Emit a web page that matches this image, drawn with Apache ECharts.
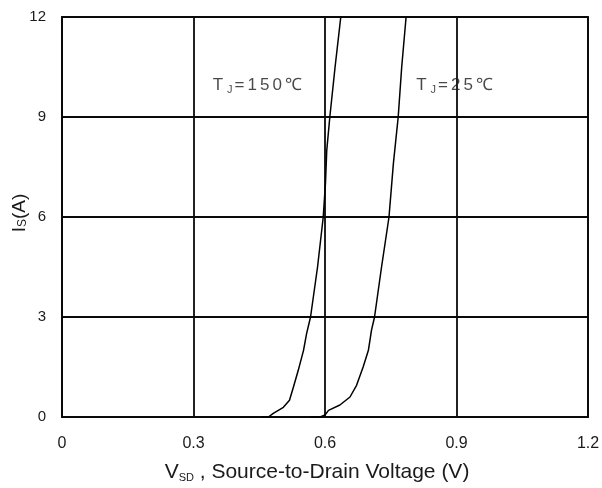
<!DOCTYPE html>
<html>
<head>
<meta charset="utf-8">
<script src="https://cdn.jsdelivr.net/npm/echarts@6/dist/echarts.min.js"></script>
<style>
html,body{margin:0;padding:0;background:#fff;}
#main{width:602px;height:488px;}
</style>
</head>
<body>
<div id="main"></div>
<script>
// Data
var xTicks = [0, 0.3, 0.6, 0.9, 1.2];
var yTicks = [0, 3, 6, 9, 12];
var curve150 = [[0.456,0],[0.471,0],[0.482,0.11],[0.505,0.29],[0.519,0.5],[0.528,0.9],[0.539,1.4],[0.551,2.0],[0.558,2.5],[0.567,3.0],[0.583,4.5],[0.596,6.0],[0.601,7.0],[0.604,8.0],[0.611,9.0],[0.623,10.5],[0.636,12]];
var curve25 = [[0.566,0],[0.589,0],[0.6,0.06],[0.608,0.2],[0.634,0.36],[0.657,0.6],[0.672,0.95],[0.687,1.5],[0.699,2.0],[0.706,2.6],[0.713,3.0],[0.729,4.5],[0.746,6.0],[0.756,7.6],[0.767,9.0],[0.775,10.5],[0.785,12]];
var curveLabels = [{name:'150℃', value:[0.449,9.95]},{name:'25℃', value:[0.899,9.95]}];

var chart = echarts.init(document.getElementById('main'), null, {renderer:'canvas'});
var font = '"Liberation Sans", Arial, sans-serif';
var txt = '#1a1a1a';
var lineCol = '#0a0a0a';
function spaced(s){
  return s.split('').map(function(c){ return '{m|' + c + '}'; }).join('');
}
var option = {
  animation: false,
  backgroundColor: '#fff',
  grid: {left: 62, top: 17, width: 526, height: 400, containLabel: false, outerBoundsMode: 'none',
    show: true, borderColor: lineCol, borderWidth: 1.8},
  xAxis: {
    type: 'value', min: 0, max: 1.2, interval: 0.3,
    axisLine: {show: true, lineStyle: {color: lineCol, width: 1.8}},
    axisTick: {show: false},
    splitLine: {show: true, lineStyle: {color: lineCol, width: 1.8}},
    axisLabel: {margin: 19, color: txt, fontFamily: font, fontSize: 16,
      formatter: function(v){ return String(Math.round(v*10)/10); }},
    name: '{m|V}{s|SD}{m| , Source-to-Drain Voltage (V)}',
    nameLocation: 'middle', nameGap: 45, nameMoveOverlap: false,
    nameTextStyle: {padding: [0, 16, 0, 0], rich: {m: {fontFamily: font, fontSize: 21, color: txt}, s: {fontFamily: font, fontSize: 11, color: txt, verticalAlign: 'bottom', padding:[6,0,0,0]}}}
  },
  yAxis: {
    type: 'value', min: 0, max: 12, interval: 3,
    axisLine: {show: true, lineStyle: {color: lineCol, width: 1.8}},
    axisTick: {show: false},
    splitLine: {show: true, lineStyle: {color: lineCol, width: 1.8}},
    axisLabel: {margin: 16, color: txt, fontFamily: font, fontSize: 15},
    name: '{m|I}{s|S}{m|(A)}',
    nameLocation: 'middle', nameGap: 33, nameMoveOverlap: false,
    nameTextStyle: {padding: [0, 0, 0, 8], rich: {m: {fontFamily: font, fontSize: 19, color: txt}, s: {fontFamily: font, fontSize: 12, color: txt, verticalAlign: 'bottom', padding:[6,0,0,0]}}}
  },
  series: [
    {type: 'line', data: curve150, symbol: 'none', smooth: false, lineStyle: {color: '#000', width: 1.5}, z: 5},
    {type: 'line', data: curve25, symbol: 'none', smooth: false, lineStyle: {color: '#000', width: 1.5}, z: 5},
    {type: 'scatter', data: curveLabels, symbolSize: 0, z: 6,
      label: {show: true, position: 'inside',
        formatter: function(p){ return '{m|T}{s|J}' + spaced('=' + p.name); },
        rich: {m: {fontFamily: font, fontSize: 17, color: txt, padding: [0, 3, 0, 0]}, s: {fontFamily: font, fontSize: 11, color: txt, verticalAlign: 'bottom', padding:[9,2,0,1]}}}
    }
  ]
};
chart.setOption(option);
</script>
</body>
</html>
